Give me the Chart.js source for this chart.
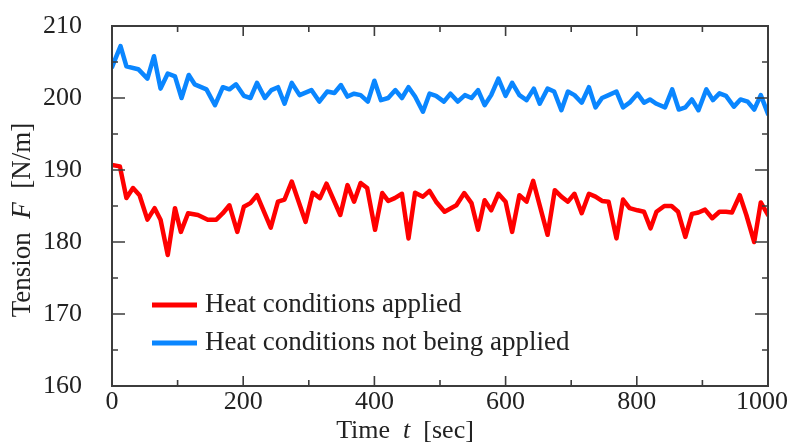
<!DOCTYPE html>
<html>
<head>
<meta charset="utf-8">
<script src="https://cdn.jsdelivr.net/npm/chart.js@4.4.1/dist/chart.umd.min.js"></script>
<style>
  body { margin: 0; background: #fff; }
  #tensionChart { display: block; }
</style>
</head>
<body>
<canvas id="tensionChart" width="789" height="445"></canvas>
<script>
// values (time in sec, tension in N/m)
const heatTime = [0, 12, 22, 32, 42, 54, 65, 74, 85, 96, 105, 116, 131, 146, 159, 169, 179, 191, 201, 211,
  221, 242, 253, 263, 274, 295, 306, 317, 327, 348, 359, 369, 379, 389, 401, 412, 421, 431, 442, 452,
  462, 474, 484, 494, 507, 525, 537, 548, 558, 568, 578, 589, 600, 610, 621, 632, 642, 664, 675, 685,
  695, 705, 716, 727, 737, 747, 757, 769, 779, 789, 801, 811, 821, 830, 842, 853, 863, 874, 884, 894,
  904, 915, 926, 936, 945, 957, 967, 979, 989, 1000];
const heatTension = [190.7, 190.5, 186.1, 187.5, 186.5, 183.1, 184.7, 183.1, 178.2, 184.7, 181.4, 184.0, 183.75, 183.1, 183.1, 184.0, 185.1, 181.4, 184.9, 185.4,
  186.5, 182.0, 185.6, 185.9, 188.4, 182.8, 186.85, 186.1, 188.1, 183.75, 187.9, 185.6, 188.2, 187.5, 181.7, 186.8, 185.7, 186.1, 186.7, 180.5,
  186.85, 186.3, 187.1, 185.6, 184.2, 185.1, 186.8, 185.4, 181.7, 185.8, 184.4, 186.7, 185.6, 181.4, 186.5, 185.6, 188.5, 181.0, 187.2, 186.3,
  185.6, 186.7, 184.0, 186.7, 186.3, 185.7, 185.6, 180.5, 185.9, 184.7, 184.4, 184.2, 181.9, 184.2, 185.0, 185.0, 184.2, 180.7, 183.9, 184.1,
  184.5, 183.3, 184.2, 184.2, 184.1, 186.5, 183.75, 180.0, 185.5, 183.75];

const noHeatTime = [0, 13, 22, 40, 54, 64, 74, 85, 96, 106, 117, 126, 144, 157, 169, 179, 189, 201, 211, 221,
  233, 243, 253, 263, 274, 286, 304, 316, 328, 339, 349, 359, 369, 379, 390, 400, 410, 421, 432, 442,
  452, 462, 474, 484, 494, 506, 516, 527, 538, 548, 558, 568, 578, 589, 600, 610, 621, 632, 643, 652,
  664, 674, 685, 695, 705, 716, 727, 737, 747, 757, 769, 779, 789, 801, 811, 820, 830, 843, 854, 864,
  874, 884, 894, 906, 916, 926, 936, 948, 958, 969, 979, 989, 1000];
const noHeatTension = [204.3, 207.2, 204.4, 204.0, 202.7, 205.8, 201.3, 203.4, 203.0, 200.0, 203.2, 201.9, 201.2, 199.0, 201.5, 201.2, 201.9, 200.3, 200.0, 202.1,
  200.0, 201.1, 201.5, 199.2, 202.1, 200.4, 201.1, 199.5, 200.9, 200.7, 201.8, 200.2, 200.6, 200.4, 199.5, 202.4, 199.7, 200.0, 201.1, 200.0,
  201.5, 200.2, 198.1, 200.6, 200.3, 199.5, 200.6, 199.5, 200.4, 200.0, 201.1, 199.0, 200.4, 202.7, 200.3, 202.1, 200.4, 199.7, 201.3, 199.2,
  201.3, 200.9, 198.3, 200.9, 200.4, 199.35, 201.5, 198.7, 200.0, 200.4, 200.9, 198.7, 199.35, 200.6, 199.35, 199.8, 199.2, 198.7, 201.2, 198.4,
  198.7, 199.8, 198.3, 201.2, 199.7, 200.65, 200.3, 198.8, 199.8, 199.5, 198.4, 200.4, 197.8];

const seriesLabels = ['Heat conditions applied', 'Heat conditions not being applied'];
const seriesColors = ['#ff0000', '#0a86ff'];

const xMin = 0, xMax = 1000, xStep = 100, xLabelEvery = 200;
const yMin = 160, yMax = 210, yStep = 5, yLabelEvery = 10;

const FONT = '"Liberation Serif", "Times New Roman", serif';
const INK = '#3c3c3c';

const toPoints = (xs, ys) => xs.map((x, i) => ({ x: x, y: ys[i] }));

// draws a string made of [text, italic] parts, starting at 0,0 with given alignment
function drawParts(ctx, parts, size, align) {
  const widths = parts.map(p => {
    ctx.font = (p[1] ? 'italic ' : '') + size + 'px ' + FONT;
    return ctx.measureText(p[0]).width;
  });
  const total = widths.reduce((a, b) => a + b, 0);
  let x = align === 'center' ? -total / 2 : 0;
  parts.forEach((p, i) => {
    ctx.font = (p[1] ? 'italic ' : '') + size + 'px ' + FONT;
    ctx.fillText(p[0], x, 0);
    x += widths[i];
  });
}

// frame, inward ticks, x labels, axis titles and the legend inside the plot
const decor = {
  id: 'decor',
  afterDraw(chart) {
    const { ctx, chartArea: a, scales: { x, y } } = chart;
    ctx.save();
    ctx.strokeStyle = INK;
    ctx.lineWidth = 2;
    ctx.strokeRect(a.left, a.top, a.right - a.left, a.bottom - a.top);

    ctx.lineWidth = 1.6;
    ctx.beginPath();
    x.ticks.forEach(t => {
      const px = x.getPixelForValue(t.value);
      const len = t.value % xLabelEvery === 0 ? 10 : 6;
      ctx.moveTo(px, a.bottom); ctx.lineTo(px, a.bottom - len);
      ctx.moveTo(px, a.top); ctx.lineTo(px, a.top + len);
    });
    y.ticks.forEach(t => {
      const py = y.getPixelForValue(t.value);
      const len = t.value % yLabelEvery === 0 ? 13 : 6;
      ctx.moveTo(a.left, py); ctx.lineTo(a.left + len, py);
      ctx.moveTo(a.right, py); ctx.lineTo(a.right - len, py);
    });
    ctx.stroke();

    // x tick labels, kept inside the canvas
    ctx.fillStyle = '#222';
    ctx.font = '26px ' + FONT;
    ctx.textBaseline = 'top';
    ctx.textAlign = 'left';
    x.ticks.forEach(t => {
      if (t.value % xLabelEvery !== 0) return;
      const s = String(t.value);
      const w = ctx.measureText(s).width;
      let left = x.getPixelForValue(t.value) - w / 2;
      left = Math.min(left, chart.width - w - 1);
      ctx.fillText(s, left, a.bottom + 3);
    });

    // axis titles
    ctx.textBaseline = 'middle';
    ctx.save();
    ctx.translate((a.left + a.right) / 2 - 35, a.bottom + 45);
    drawParts(ctx, [['Time  ', false], ['t', true], ['  [sec]', false]], 26, 'center');
    ctx.restore();
    ctx.save();
    ctx.translate(23, (a.top + a.bottom) / 2 + 14);
    ctx.rotate(-Math.PI / 2);
    drawParts(ctx, [['Tension  ', false], ['F', true], ['  [N/m]', false]], 27, 'center');
    ctx.restore();

    // legend
    chart.data.datasets.forEach((ds, i) => {
      const ly = a.bottom - 81 + i * 38;
      ctx.strokeStyle = ds.borderColor;
      ctx.lineWidth = 5;
      ctx.beginPath();
      ctx.moveTo(a.left + 40, ly);
      ctx.lineTo(a.left + 85, ly);
      ctx.stroke();
      ctx.fillStyle = '#222';
      ctx.font = '27px ' + FONT;
      ctx.fillText(ds.label, a.left + 93, ly);
    });
    ctx.restore();
  }
};

const chart = new Chart(document.getElementById('tensionChart'), {
  type: 'line',
  data: {
    datasets: [
      { label: seriesLabels[0], data: toPoints(heatTime, heatTension), borderColor: seriesColors[0] },
      { label: seriesLabels[1], data: toPoints(noHeatTime, noHeatTension), borderColor: seriesColors[1] }
    ]
  },
  options: {
    responsive: false,
    animation: false,
    layout: { padding: { top: 26, right: 21, left: 0, bottom: 0 } },
    elements: {
      line: { borderWidth: 4.5, tension: 0, borderJoinStyle: 'round', borderCapStyle: 'round' },
      point: { radius: 0 }
    },
    plugins: { legend: { display: false }, tooltip: { enabled: false } },
    scales: {
      x: {
        type: 'linear', min: xMin, max: xMax,
        grid: { display: false }, border: { display: false },
        ticks: { display: false, stepSize: xStep },
        afterFit: s => { s.height = 59; s.paddingLeft = 0; s.paddingRight = 0; }
      },
      y: {
        min: yMin, max: yMax,
        grid: { display: false }, border: { display: false },
        ticks: {
          stepSize: yStep, padding: 22, color: '#222',
          font: { family: FONT, size: 26 },
          callback: v => (v % yLabelEvery === 0 ? v : '')
        },
        afterFit: s => { s.width = 112; s.paddingTop = 0; s.paddingBottom = 0; }
      }
    }
  },
  plugins: [decor]
});
</script>
</body>
</html>
